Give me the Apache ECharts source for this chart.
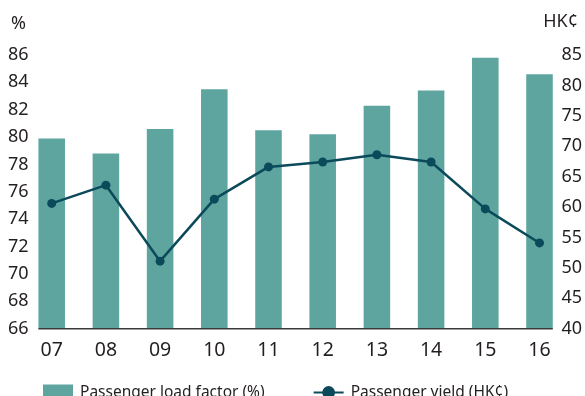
<!DOCTYPE html>
<html>
<head>
<meta charset="utf-8">
<script src="https://cdn.jsdelivr.net/npm/echarts@6/dist/echarts.min.js"></script>
<style>html,body{margin:0;padding:0;background:#fff;}#c{width:585px;height:396px;}</style>
</head>
<body>
<div id="c"></div>
<script>
const categories = ['07','08','09','10','11','12','13','14','15','16'];
const loadFactor = [79.9, 78.8, 80.6, 83.5, 80.5, 80.2, 82.3, 83.4, 85.8, 84.6];
const passengerYield = [60.6, 63.6, 51.1, 61.3, 66.6, 67.4, 68.6, 67.4, 59.7, 54.1];
const leftTicks = [66, 86, 2];
const rightTicks = [40, 85, 5];

const FONT = 'Noto Sans';
const TXT = '#231f20';
const BAR = '#5ea5a0';
const LINE = '#0b4a5a';
const BAR_RATIO = 0.49;

const chart = echarts.init(document.getElementById('c'), null, {renderer: 'canvas'});
chart.setOption({
  animation: false,
  textStyle: {fontFamily: FONT, color: TXT},
  title: [
    {text: '%', left: 6, top: 10, textStyle: {fontFamily: FONT, fontSize: 18, fontWeight: 'normal', color: TXT}},
    {text: 'HK¢', right: 2, top: 8, textStyle: {fontFamily: FONT, fontSize: 18, fontWeight: 'normal', color: TXT}}
  ],
  grid: {left: 24.6, right: 18.4, top: 55, bottom: 67.3},
  legend: {
    left: 38, top: 379.5, itemWidth: 30, itemHeight: 16, itemGap: 48,
    data: [
      {name: 'Passenger load factor (%)', icon: 'rect'},
      {name: 'Passenger yield (HK¢)'}
    ],
    textStyle: {fontFamily: FONT, fontSize: 15.5, color: TXT, padding: [0, 0, 0, 2]}
  },
  xAxis: {
    type: 'category', data: categories,
    axisLine: {show: false}, axisTick: {show: false},
    axisLabel: {fontFamily: FONT, fontSize: 19.5, color: TXT, margin: 12}
  },
  yAxis: [
    {type: 'value', min: leftTicks[0], max: leftTicks[1], interval: leftTicks[2],
     splitLine: {show: false}, axisLine: {show: false}, axisTick: {show: false},
     axisLabel: {fontFamily: FONT, fontSize: 18, color: TXT, align: 'left', margin: 16.6}},
    {type: 'value', min: rightTicks[0], max: rightTicks[1], interval: rightTicks[2],
     splitLine: {show: false}, axisLine: {show: false}, axisTick: {show: false},
     axisLabel: {fontFamily: FONT, fontSize: 18, color: TXT, align: 'right', margin: 15.4}}
  ],
  series: [
    {name: 'Passenger load factor (%)', type: 'bar', data: loadFactor, yAxisIndex: 0,
     barWidth: (BAR_RATIO * 100) + '%', itemStyle: {color: BAR}},
    {name: 'Passenger yield (HK¢)', type: 'line', data: passengerYield, yAxisIndex: 1,
     symbol: 'circle', symbolSize: 9, lineStyle: {color: LINE, width: 2.5},
     itemStyle: {color: LINE}, z: 5},
    {type: 'custom', yAxisIndex: 0, silent: true, z: 4,
     data: [[0]],
     renderItem: function (params, api) {
       const bw = api.size([1, 0])[0] * BAR_RATIO;
       const p0 = api.coord([0, leftTicks[0]]);
       const p1 = api.coord([categories.length - 1, leftTicks[0]]);
       return {type: 'line',
         shape: {x1: p0[0] - bw / 2, y1: p0[1], x2: p1[0] + bw / 2, y2: p1[1]},
         style: {stroke: '#3a3a3a', lineWidth: 1.5}};
     }}
  ]
});
</script>
</body>
</html>
